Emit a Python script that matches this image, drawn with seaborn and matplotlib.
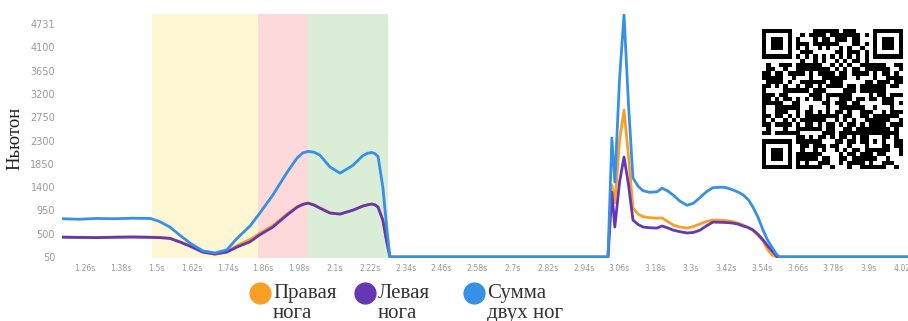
import numpy as np
import pandas as pd
import seaborn as sns
import matplotlib.pyplot as plt
from matplotlib.lines import Line2D

# Время (с)
time_s = [1.183, 1.24, 1.30, 1.36, 1.42, 1.48, 1.51, 1.546, 1.58, 1.614, 1.657, 1.698,
          1.738, 1.772, 1.816, 1.849, 1.893, 1.94, 1.974, 1.993, 2.011, 2.031, 2.051,
          2.085, 2.119, 2.162, 2.196, 2.212, 2.226, 2.237, 2.247, 2.263, 2.277, 2.287,
          3.021, 3.034, 3.044, 3.06, 3.075, 3.09, 3.105, 3.122, 3.139, 3.162, 3.186,
          3.203, 3.221, 3.24, 3.263, 3.287, 3.309, 3.331, 3.352, 3.374, 3.408, 3.425,
          3.442, 3.459, 3.476, 3.493, 3.509, 3.526, 3.543, 3.558, 3.573, 3.59, 3.60, 4.031]

# Сила (Н)
right_leg = [430, 425, 430, 435, 440, 436, 430, 415, 345, 265, 150, 105,
             150, 270, 390, 510, 660, 880, 1020, 1070, 1095, 1060, 1000,
             905, 880, 955, 1035, 1058, 1070, 1055, 1015, 760, 320, 50,
             50, 1440, 1100, 2300, 2888, 2000, 1000, 880, 830, 810, 800,
             805, 740, 670, 630, 610, 640, 690, 735, 765, 760, 750,
             730, 705, 670, 620, 560, 470, 360, 200, 90, 50, 50, 50]
left_leg = [436, 430, 425, 432, 436, 430, 425, 410, 340, 260, 145, 108,
            147, 243, 345, 480, 630, 860, 1010, 1065, 1090, 1055, 995,
            900, 880, 955, 1035, 1060, 1075, 1058, 1015, 764, 320, 50,
            50, 1300, 630, 1500, 1981, 1450, 765, 680, 630, 615, 610,
            650, 615, 570, 540, 515, 525, 570, 650, 725, 720, 715,
            705, 685, 650, 620, 575, 490, 380, 270, 170, 60, 50, 50]
both_legs = [790, 780, 795, 790, 800, 795, 740, 630, 470, 320, 170, 130,
             190, 410, 650, 900, 1250, 1680, 1960, 2060, 2090, 2075, 2020,
             1790, 1670, 1820, 2010, 2055, 2070, 2045, 1990, 1400, 570, 50,
             50, 2350, 1500, 3500, 4731, 3000, 1580, 1420, 1330, 1300, 1310,
             1380, 1330, 1250, 1130, 1050, 1090, 1200, 1310, 1390, 1400, 1380,
             1345, 1305, 1250, 1160, 1015, 820, 570, 380, 240, 90, 50, 50]

series_names = ['Правая\nнога', 'Левая\nнога', 'Сумма\nдвух ног']
series_colors = ['#FA9F26', '#6537B2', '#3690E6']

# Фазы (закрашенные зоны)
zone_start = [1.486, 1.842, 2.011]
zone_end = [1.842, 2.011, 2.28]
zone_colors = ['#FFF7D4', '#FDD9D9', '#DAEED7']

ytick_labels = ['50', '500', '950', '1400', '1850', '2300', '2750', '3200', '3650', '4100', '4731']
xtick_labels = ['1.26s', '1.38s', '1.5s', '1.62s', '1.74s', '1.86s', '1.98s', '2.1s',
                '2.22s', '2.34s', '2.46s', '2.58s', '2.7s', '2.82s', '2.94s', '3.06s',
                '3.18s', '3.3s', '3.42s', '3.54s', '3.66s', '3.78s', '3.9s', '4.02s']

df = pd.DataFrame({
    't': time_s * 3,
    'v': right_leg + left_leg + both_legs,
    'series': [series_names[0]] * len(time_s) + [series_names[1]] * len(time_s)
              + [series_names[2]] * len(time_s),
})

sns.set_style('white')
plt.rcParams['font.family'] = ['DejaVu Sans']

fig = plt.figure(figsize=(9.08, 3.21), dpi=100)
ax = fig.add_axes([0.0683, 0.196, 0.9317, 0.7614])

for s, e, c in zip(zone_start, zone_end, zone_colors):
    ax.axvspan(s, e, color=c, lw=0, zorder=0)

sns.lineplot(data=df, x='t', y='v', hue='series', hue_order=series_names,
             palette=series_colors, linewidth=2, legend=False, ax=ax, zorder=2)

ax.set_xlim(1.183, 4.031)
ax.set_ylim(30, 4750)
ax.set_yticks([50 + 450 * k for k in range(len(ytick_labels))])
ax.set_yticklabels(ytick_labels)
ax.set_xticks([round(1.26 + 0.12 * k, 2) for k in range(len(xtick_labels))])
ax.set_xticklabels(xtick_labels)
ax.tick_params(axis='y', length=0, pad=5, labelsize=7, labelcolor='#9a9a9a')
ax.tick_params(axis='x', length=0, pad=4, labelsize=5.6, labelcolor='#9a9a9a')
ax.set_xlabel('')
ax.set_ylabel('')
sns.despine(ax=ax, left=True, bottom=True)

fig.text(0.0165, 0.57, 'Ньютон', rotation=90, ha='center', va='center',
         family='Liberation Serif', fontsize=13.5, color='#222222')

# Легенда
leg_circle_x = [260, 365, 474]
for cx, name, col in zip(leg_circle_x, series_names, series_colors):
    fig.add_artist(Line2D([cx / 908], [(321 - 293) / 321], marker='o', markersize=15,
                          color=col, linestyle='none', transform=fig.transFigure))
    fig.text((cx + 13) / 908, (321 - 284) / 321, name, ha='left', va='top',
             family='Liberation Serif', fontsize=15, color='#333333', linespacing=1.05)

# QR-код (декоративный)
n = 33
i, j = np.indices((n, n))
qr = ((((i * j) % 3 + (i + j) % 2 + (i // 2 + j // 3) % 2 + ((i * i + 3 * j) % 5 < 2)) % 2)
      | ((i * 5 + j * 3 + i * j) % 7 < 2)).astype(float)
for r0, c0 in [(0, 0), (0, n - 7), (n - 7, 0)]:
    rs, re_ = max(r0 - 1, 0), min(r0 + 8, n)
    cs, ce = max(c0 - 1, 0), min(c0 + 8, n)
    qr[rs:re_, cs:ce] = 0
    qr[r0:r0 + 7, c0:c0 + 7] = 1
    qr[r0 + 1:r0 + 6, c0 + 1:c0 + 6] = 0
    qr[r0 + 2:r0 + 5, c0 + 2:c0 + 5] = 1
qr[6, 8:n - 8] = (np.arange(8, n - 8) % 2 == 0)
qr[8:n - 8, 6] = (np.arange(8, n - 8) % 2 == 0)
qr[24:29, 24:29] = 1
qr[25:28, 25:28] = 0
qr[26, 26] = 1
qax = fig.add_axes([0.839, 0.4735, 0.155, 0.436])
qax.imshow(qr, cmap='gray_r', interpolation='nearest', aspect='auto', vmin=0, vmax=1)
qax.axis('off')

fig.savefig('out.png', dpi=100)
